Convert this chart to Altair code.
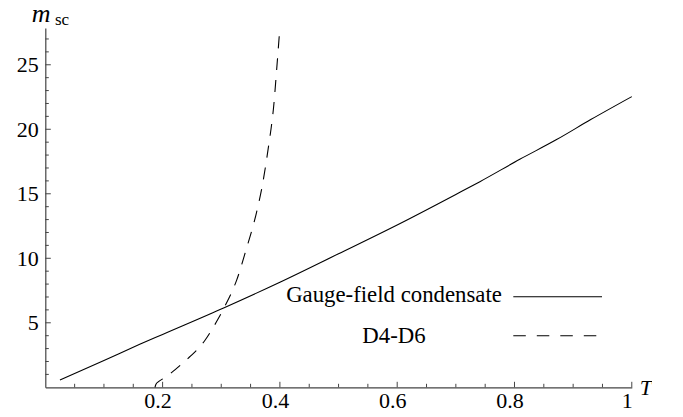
import altair as alt
import pandas as pd

# Gauge-field condensate (solid)
solid_T = [0.025, 0.1, 0.161, 0.2, 0.305, 0.4, 0.5, 0.605, 0.7, 0.741, 0.809, 0.871, 0.93, 1.0]
solid_m = [0.57, 2.08, 3.33, 4.1, 6.17, 8.14, 10.35, 12.7, 14.95, 15.94, 17.67, 19.18, 20.75, 22.53]

# D4-D6 (dashed)
dash_T = [0.187, 0.1885, 0.1925, 0.2012, 0.2172, 0.2326, 0.2479, 0.2609, 0.2723, 0.2837, 0.295,
          0.3064, 0.3195, 0.3263, 0.3422, 0.3604, 0.3707, 0.381, 0.3865, 0.3889, 0.3946, 0.3999]
dash_m = [0.0, 0.22, 0.42, 0.68, 1.21, 1.81, 2.43, 3.02, 3.65, 4.45, 5.33,
          6.3, 7.54, 8.31, 10.64, 13.6, 15.81, 18.8, 20.6, 21.55, 24.7, 27.85]

x_major = [0.2, 0.4, 0.6, 0.8, 1.0]
x_minor = [0.05, 0.1, 0.15, 0.25, 0.3, 0.35, 0.45, 0.5, 0.55, 0.65, 0.7, 0.75, 0.85, 0.9, 0.95]
y_major = [5, 10, 15, 20, 25]
y_minor = [1, 2, 3, 4, 6, 7, 8, 9, 11, 12, 13, 14, 16, 17, 18, 19, 21, 22, 23, 24, 26, 27]

legend_labels = ["Gauge-field condensate", "D4-D6"]

W = 586.5
H = 359.3
FONT = "Liberation Serif"
AX = "#444444"

xs = alt.Scale(domain=[0, 1], nice=False, zero=False)
ys = alt.Scale(domain=[0, 27.85], nice=False, zero=False)

x_axis = alt.Axis(values=x_major, format="~g", ticks=False, grid=False, domainColor=AX,
                  domainWidth=1.2, labelFont=FONT, labelFontSize=22, labelColor="black",
                  labelPadding=3, labelOffset=-5, labelFlush=False)
y_axis = alt.Axis(values=y_major, ticks=False, grid=False, domainColor=AX,
                  domainWidth=1.2, labelFont=FONT, labelFontSize=22, labelColor="black",
                  labelPadding=7, labelFlush=False)

def X():
    return alt.X("T:Q", scale=xs, title=None, axis=x_axis)

def Y():
    return alt.Y("m:Q", scale=ys, title=None, axis=y_axis)

solid_df = pd.DataFrame({"T": solid_T, "m": solid_m})
dash_df = pd.DataFrame({"T": dash_T, "m": dash_m})

solid = alt.Chart(solid_df).mark_line(color="black", strokeWidth=1.1, interpolate="monotone").encode(
    x=X(), y=Y())

dashed = alt.Chart(dash_df).mark_line(color="black", strokeWidth=1.1, strokeDash=[12, 10],
                                      interpolate="monotone").encode(x=X(), y=Y())

def xticks(vals, length):
    return alt.Chart(pd.DataFrame({"T": vals})).mark_rule(color=AX, strokeWidth=1).encode(
        x=X(), y=alt.value(H), y2=alt.value(H - length))

def yticks(vals, length):
    return alt.Chart(pd.DataFrame({"m": vals})).mark_rule(color=AX, strokeWidth=1).encode(
        y=Y(), x=alt.value(0), x2=alt.value(length))

leg_text1 = alt.Chart(pd.DataFrame({"label": [legend_labels[0]]})).mark_text(
    font=FONT, fontSize=22.8, align="center", baseline="alphabetic", color="black").encode(
    text="label:N", x=alt.value(348.7), y=alt.value(274))
leg_text2 = alt.Chart(pd.DataFrame({"label": [legend_labels[1]]})).mark_text(
    font=FONT, fontSize=22.8, align="center", baseline="alphabetic", color="black").encode(
    text="label:N", x=alt.value(348.7), y=alt.value(315))
leg_line1 = alt.Chart(pd.DataFrame({"label": [legend_labels[0]]})).mark_rule(
    color="black", strokeWidth=1.1).encode(
    x=alt.value(468), x2=alt.value(556.7), y=alt.value(268.7))
leg_line2 = alt.Chart(pd.DataFrame({"label": [legend_labels[1]]})).mark_rule(
    color="black", strokeWidth=1.1, strokeDash=[12.5, 11]).encode(
    x=alt.value(468), x2=alt.value(551.4), y=alt.value(307.7))

ylab_m = alt.Chart(pd.DataFrame({"t": ["m"]})).mark_text(
    font=FONT, fontSize=26, fontStyle="italic", align="left", baseline="alphabetic", color="black").encode(
    text="t:N", x=alt.value(-13.5), y=alt.value(-6))
ylab_sc = alt.Chart(pd.DataFrame({"t": ["sc"]})).mark_text(
    font=FONT, fontSize=17, align="left", baseline="alphabetic", color="black").encode(
    text="t:N", x=alt.value(9.7), y=alt.value(-2.5))
xlab = alt.Chart(pd.DataFrame({"t": ["T"]})).mark_text(
    font=FONT, fontSize=22, fontStyle="italic", align="left", baseline="alphabetic", color="black").encode(
    text="t:N", x=alt.value(594.5), y=alt.value(367))

chart = alt.layer(
    solid, dashed,
    xticks(x_major, 5.5), xticks(x_minor, 3.5),
    yticks(y_major, 5.5), yticks(y_minor, 3.5),
    leg_text1, leg_text2, leg_line1, leg_line2,
    ylab_m, ylab_sc, xlab,
).properties(
    width=W, height=H,
    background="white",
    autosize=alt.AutoSizeParams(type="none"),
    padding={"left": 37.3, "top": 20, "right": 20, "bottom": 25},
).configure(font=FONT).configure_axis(labelFont=FONT).configure_view(stroke=None)

chart.save("out.html", embed_options={"renderer": "svg", "actions": False})
